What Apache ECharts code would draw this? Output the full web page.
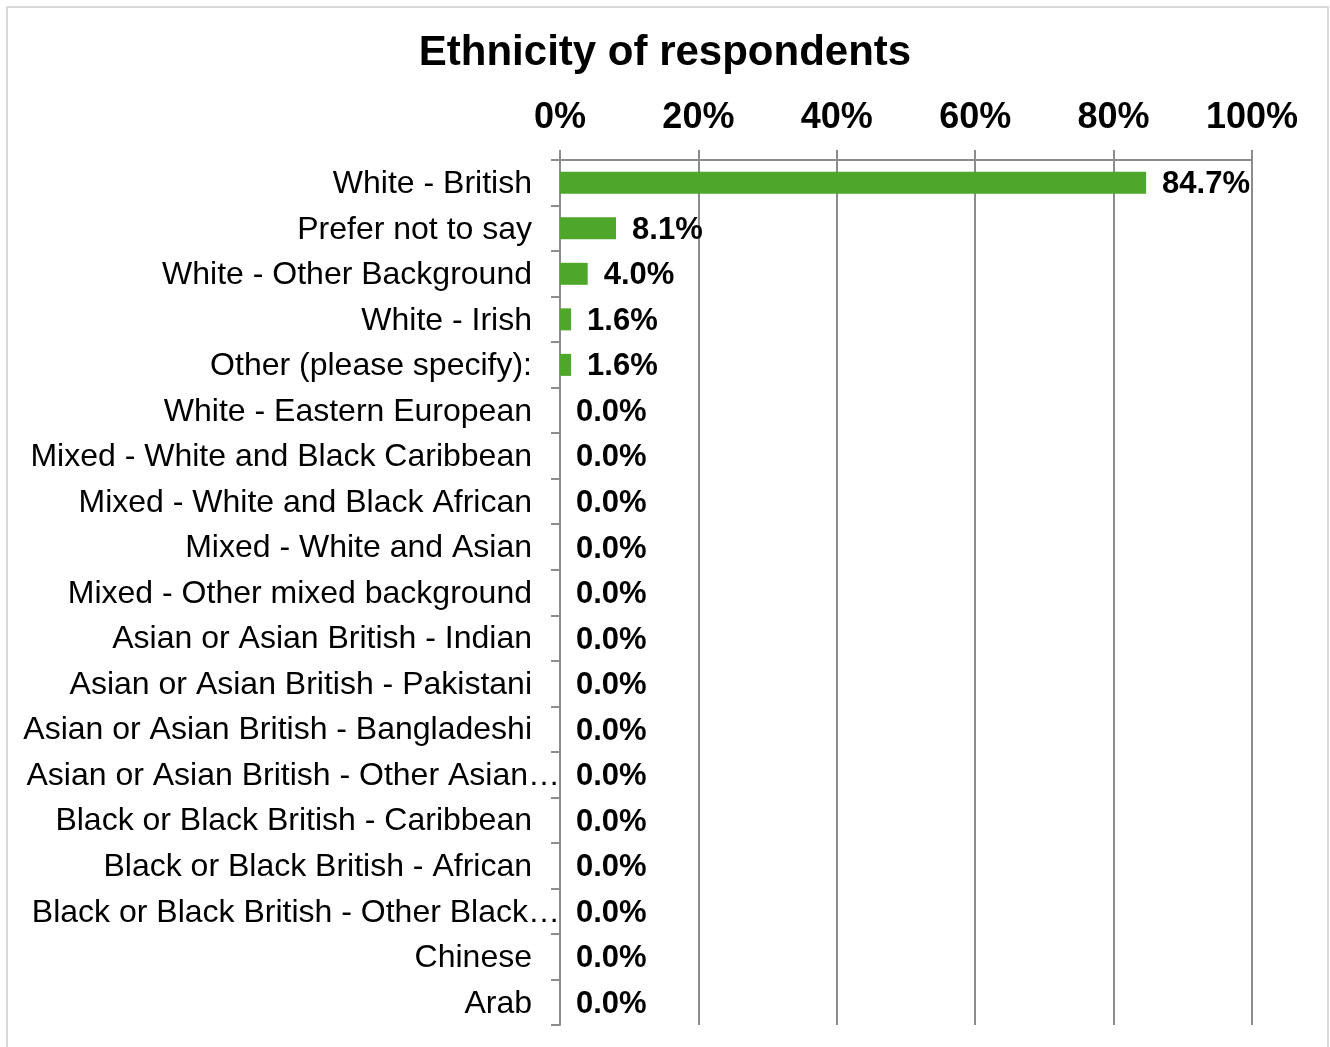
<!DOCTYPE html>
<html><head><meta charset="utf-8">
<script src="https://cdn.jsdelivr.net/npm/echarts@6/dist/echarts.min.js"></script>
<style>html,body{margin:0;padding:0;background:#fff}#c{width:1330px;height:1047px}
#frame{position:absolute;left:6px;top:6px;width:1323px;height:1050px;border:2px solid #d9d9d9;box-sizing:border-box;pointer-events:none}</style>
</head><body>
<div id="c"></div><div id="frame"></div>
<script>
const categories = [
  "White - British",
  "Prefer not to say",
  "White - Other Background",
  "White - Irish",
  "Other (please specify):",
  "White - Eastern European",
  "Mixed - White and Black Caribbean",
  "Mixed - White and Black African",
  "Mixed - White and Asian",
  "Mixed - Other mixed background",
  "Asian or Asian British - Indian",
  "Asian or Asian British - Pakistani",
  "Asian or Asian British - Bangladeshi",
  "Asian or Asian British - Other Asian background",
  "Black or Black British - Caribbean",
  "Black or Black British - African",
  "Black or Black British - Other Black background",
  "Chinese",
  "Arab"
];
const values = [84.7, 8.1, 4.0, 1.6, 1.6, 0, 0, 0, 0, 0, 0, 0, 0, 0, 0, 0, 0, 0, 0];
const xTicks = [0, 20, 40, 60, 80, 100];

const FONT = '"Liberation Sans", Arial, sans-serif';
const chart = echarts.init(document.getElementById('c'));
chart.setOption({
  backgroundColor: '#fff',
  animation: false,
  title: {
    text: 'Ethnicity of respondents',
    left: 'center', top: 27,
    textStyle: {fontFamily: FONT, fontSize: 42, fontWeight: 'bold', color: '#000'}
  },
  grid: {left: 560, right: 78, top: 160, bottom: 22, containLabel: false},
  xAxis: {
    type: 'value', position: 'top',
    min: xTicks[0], max: xTicks[xTicks.length - 1], interval: 20,
    axisLine: {show: true, lineStyle: {color: '#8c8c8c', width: 2}},
    axisTick: {show: true, length: 10, lineStyle: {color: '#8c8c8c', width: 2}},
    splitLine: {show: true, lineStyle: {color: '#8c8c8c', width: 2}},
    axisLabel: {
      formatter: v => v + '%', margin: 24,
      fontFamily: FONT, fontSize: 36, fontWeight: 'bold', color: '#000'
    }
  },
  yAxis: {
    type: 'category', inverse: true, data: categories,
    axisLine: {show: true, lineStyle: {color: '#8c8c8c', width: 2}},
    axisTick: {show: true, length: 9, lineStyle: {color: '#8c8c8c', width: 2}},
    axisLabel: {
      margin: 0, fontFamily: FONT, fontSize: 32, color: '#000',
      formatter: function (v) {
        if (v.length > 36) return '{t|' + v.slice(0, 36) + '…}';
        return '{n|' + v + '}';
      },
      rich: {
        n: {fontFamily: FONT, fontSize: 32, color: '#000', padding: [3, 28, 0, 0]},
        t: {fontFamily: FONT, fontSize: 32, color: '#000', padding: [3, 0, 0, 0]}
      }
    }
  },
  series: [{
    type: 'bar', data: values, barWidth: 22,
    itemStyle: {color: '#4ea72a'},
    label: {
      show: true, position: 'right', distance: 16, offset: [0, 2],
      formatter: p => p.value.toFixed(1) + '%',
      fontFamily: FONT, fontSize: 31, fontWeight: 'bold', color: '#000'
    }
  }]
});
</script>
</body></html>
